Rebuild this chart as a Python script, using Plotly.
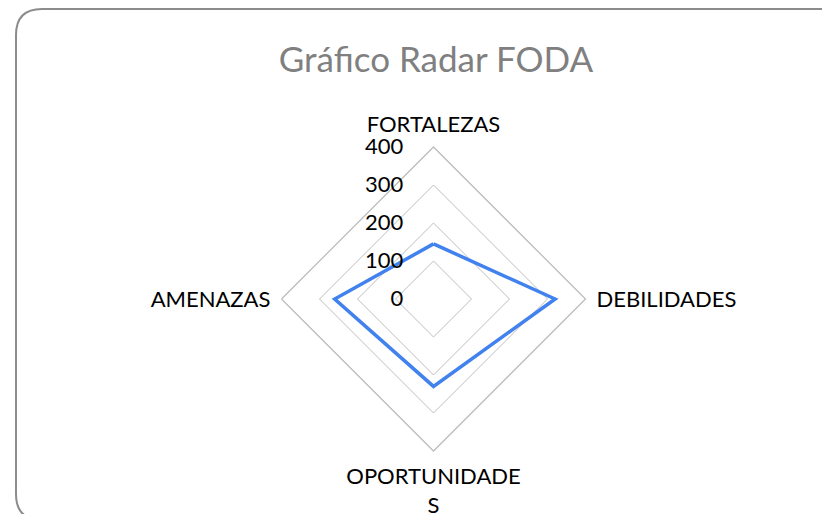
import plotly.graph_objects as go

W, H = 830, 514

categories = ["FORTALEZAS", "DEBILIDADES", "OPORTUNIDADES", "AMENAZAS"]
category_labels = ["FORTALEZAS", "DEBILIDADES", "OPORTUNIDADE<br>S", "AMENAZAS"]
values = [145, 320, 230, 260]
radial_ticks = [0, 100, 200, 300, 400]

font_family = "Lato, 'Open Sans', 'DejaVu Sans', sans-serif"

fig = go.Figure()
fig.add_trace(go.Scatterpolar(
    r=values + values[:1],
    theta=categories + categories[:1],
    mode="lines",
    line=dict(color="#4282EE", width=3.5),
    hoverinfo="skip",
    showlegend=False,
))

# page has an 8px body margin, so coordinates are shifted by -8
cx, cy, R = 425.5, 291, 152
fig.update_layout(
    width=W, height=H,
    margin=dict(l=0, r=0, t=0, b=0),
    paper_bgcolor="white",
    plot_bgcolor="white",
    font=dict(family=font_family, color="#000000", size=22),
    title=dict(text="Gráfico Radar FODA", x=428 / W, y=1 - 52 / H,
               xanchor="center", yanchor="middle",
               font=dict(family=font_family, size=35, color="#808080")),
    polar=dict(
        domain=dict(x=[(cx - R) / W, (cx + R) / W], y=[1 - (cy + R) / H, 1 - (cy - R) / H]),
        bgcolor="white",
        gridshape="linear",
        angularaxis=dict(
            rotation=90, direction="clockwise",
            categoryorder="array", categoryarray=categories,
            tickmode="array", tickvals=categories, ticktext=category_labels,
            showgrid=False, showline=True, linecolor="#BDBDBD", linewidth=1.3,
            ticks="outside", ticklen=6, tickcolor="rgba(0,0,0,0)",
            tickfont=dict(size=22, color="#000000"),
        ),
        radialaxis=dict(
            range=[0, 400], angle=90, side="counterclockwise",
            tickmode="array", tickvals=radial_ticks, ticktext=[str(v) for v in radial_ticks],
            showgrid=True, gridcolor="#BDBDBD", gridwidth=1.3,
            showline=False, ticks="outside", ticklen=22, tickcolor="rgba(0,0,0,0)",
            tickangle=90, tickfont=dict(size=22, color="#000000"),
        ),
    ),
)

# rounded frame around the chart area
fx0, fy0, fx1, fy1, rr = 8, 1, 860, 512, 26
x0, y0, x1, y1 = fx0 / W, 1 - fy0 / H, fx1 / W, 1 - fy1 / H
rx, ry = rr / W, rr / H
path = (f"M {x0+rx} {y0} L {x1-rx} {y0} Q {x1} {y0} {x1} {y0-ry} "
        f"L {x1} {y1+ry} Q {x1} {y1} {x1-rx} {y1} L {x0+rx} {y1} "
        f"Q {x0} {y1} {x0} {y1+ry} L {x0} {y0-ry} Q {x0} {y0} {x0+rx} {y0} Z")
fig.add_shape(type="path", path=path, xref="paper", yref="paper",
              line=dict(color="#8C8C8C", width=2), layer="below")

fig.write_html("out.html")
